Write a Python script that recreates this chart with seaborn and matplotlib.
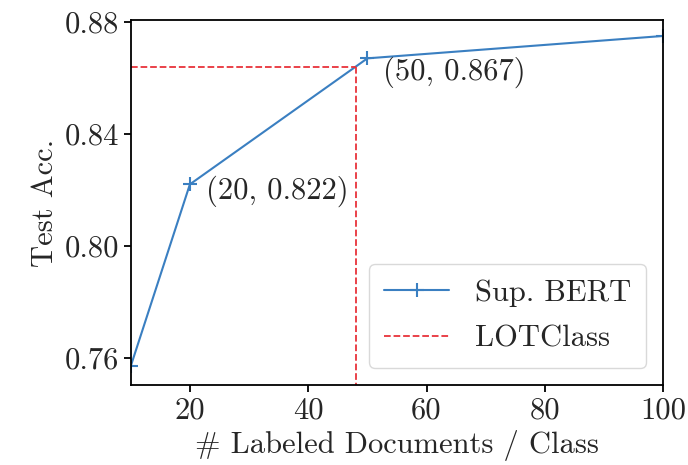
import matplotlib
matplotlib.use("Agg")
import matplotlib.pyplot as plt
import seaborn as sns
import pandas as pd

labeled_docs = [10, 20, 50, 100]
sup_bert_acc = [0.757, 0.822, 0.867, 0.875]
lotclass_docs = 48
lotclass_acc = 0.864
annot_points = [(20, 0.822), (50, 0.867)]
annot_offsets = [(11.5, -5), (11.5, -10)]
y_ticks = [0.76, 0.80, 0.84, 0.88]
x_ticks = [20, 40, 60, 80, 100]

sns.set_theme(style="ticks")
plt.rcParams['font.family'] = ['cmr10', 'DejaVu Serif']
plt.rcParams['axes.formatter.use_mathtext'] = True
plt.rcParams['mathtext.fontset'] = 'cm'

FS = 22
blue = "#3a7fc1"
red = "#e8333a"

df = pd.DataFrame({"docs": labeled_docs, "acc": sup_bert_acc})

fig = plt.figure(figsize=(6.88, 4.65), dpi=100)
ax = fig.add_axes([0.190, 0.172, 0.774, 0.785])

sns.lineplot(data=df, x="docs", y="acc", ax=ax, marker="+", markersize=10,
             markeredgewidth=1.5, markeredgecolor=blue, markerfacecolor=blue,
             color=blue, linewidth=1.5, label="Sup. BERT")
ax.plot([10, lotclass_docs], [lotclass_acc, lotclass_acc], ls="--",
        color=red, lw=1.3, label="LOTClass")
ax.plot([lotclass_docs, lotclass_docs], [0.70, lotclass_acc], ls="--",
        color=red, lw=1.3)

for (x, y), off in zip(annot_points, annot_offsets):
    ax.annotate(f"({x}, {y})", xy=(x, y), xytext=off,
                textcoords="offset points", fontsize=FS, va="center")

ax.set_xlim(10, 100)
ax.set_ylim(0.7503, 0.8807)
ax.set_xticks(x_ticks)
ax.set_yticks(y_ticks)
ax.set_yticklabels([f"{v:.2f}" for v in y_ticks])
ax.set_xticklabels([str(v) for v in x_ticks])
ax.tick_params(labelsize=FS, width=1.3, length=5, color="black")
for s in ax.spines.values():
    s.set_linewidth(1.3)
    s.set_color("black")
ax.set_xlabel("# Labeled Documents / Class", fontsize=FS)
ax.set_ylabel("Test Acc.", fontsize=FS)

leg = ax.legend(loc="lower right", fontsize=FS, frameon=True, handlelength=2.1,
                borderpad=0.5, labelspacing=0.6, handletextpad=0.85,
                borderaxespad=0.56)
leg.get_frame().set_edgecolor("#d0d0d0")

fig.savefig("out.png", dpi=100)
